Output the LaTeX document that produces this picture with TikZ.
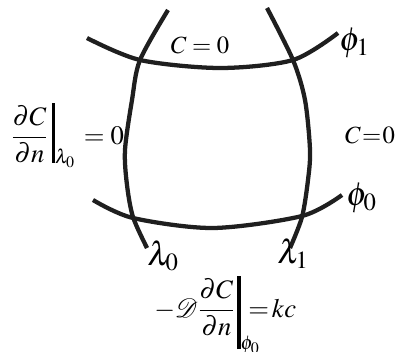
\documentclass[tikz,border=0pt]{standalone}
\usepackage{mathptmx}
\newcommand{\dCdn}{\displaystyle\frac{\partial C}{\partial n}}
\newcommand{\evbar}[2]{{\vrule width 2.4pt height #1 depth #2}}

\begin{document}
\begin{tikzpicture}[
    x=0.75pt, y=-0.75pt,
    gridline/.style={line width=3.2pt,black!88},
    curvelbl/.style={inner sep=0pt,anchor=base west,font=\fontsize{25}{28}\selectfont},
    bclbl/.style={inner sep=0pt,font=\fontsize{18.5}{22}\selectfont},
    eqlbl/.style={inner sep=0pt,anchor=base west,font=\fontsize{20}{24}\selectfont}
  ]
  \useasboundingbox (0,0) rectangle (397,351);
  % lambda lines
  \draw[gridline] plot[smooth] coordinates {(168,10) (140,60) (132,100) (125,150) (127,185) (133,217) (147,248)};
  \draw[gridline] plot[smooth] coordinates {(267,8) (293,60) (305,100) (310,150) (308,180) (302,217) (290,248)};
  % phi lines
  \draw[gridline] plot[smooth] coordinates {(87,38) (140,60) (220,68) (293,60) (338,33)};
  \draw[gridline] plot[smooth] coordinates {(93,200) (133,218) (213,228) (302,216) (342,195)};

  \node[curvelbl] (phi1) at (339,50) {$\phi_1$};
  \node[curvelbl] (phi0) at (346,205) {$\phi_0$};
  \node[curvelbl] (lam0) at (147,265) {$\lambda_0$};
  \node[curvelbl] (lam1) at (277,263) {$\lambda_1$};

  \node[bclbl] (ctop) at (200,45) {$C\mkern4mu{=}\mkern4mu0$};
  \node[bclbl] (cright) at (370,135) {$C\mkern1mu{=}\mkern1mu0$};

  \node[eqlbl] (bclam) at (11,144) {$\dCdn\kern3pt\evbar{31pt}{14pt}_{\lambda_0}\kern2pt = 0$};
  \node[eqlbl] (bcphi) at (154,317) {${-}\mathcal{D}\dCdn\kern2pt\evbar{31pt}{24pt}_{\phi_0}\kern-9pt{=}\,kc$};
\end{tikzpicture}
\end{document}
